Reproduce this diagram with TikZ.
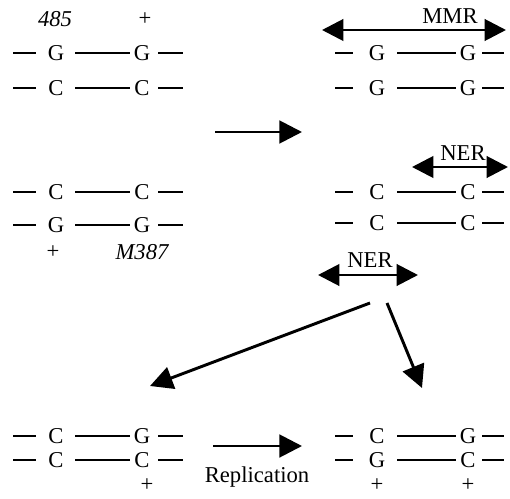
\documentclass[tikz,border=0pt]{standalone}
\usepackage{fontspec}
\setmainfont{Liberation Serif}
\usetikzlibrary{arrows.meta,calc}
\tikzset{
  base/.style={font=\fontsize{17}{20}\selectfont, inner sep=0pt},
  lbl/.style={font=\fontsize{17}{20}\selectfont, inner sep=0pt},
  bond/.style={line width=1.7pt},
  bigarrow/.style={line width=2.2pt, -{Triangle[length=17pt,width=17pt]}},
  dblarrow/.style={line width=2.2pt, {Triangle[length=16pt,width=16pt]}-{Triangle[length=16pt,width=16pt]}},
}
\newcommand{\rowL}[4]{%
  \node[base] (#1a) at (56,#2) {#3};
  \node[base] (#1b) at (142,#2) {#4};
  \coordinate (#1s) at (13,#2);
  \coordinate (#1e) at (183,#2);
  \draw[bond] (#1s) -- ($(#1a)+(-20,0)$);
  \draw[bond] ($(#1a)+(19,0)$) -- ($(#1b)+(-12,0)$);
  \draw[bond] ($(#1b)+(16,0)$) -- (#1e);
}
\newcommand{\rowR}[4]{%
  \node[base] (#1a) at (377,#2) {#3};
  \node[base] (#1b) at (468,#2) {#4};
  \coordinate (#1s) at (335,#2);
  \coordinate (#1e) at (504,#2);
  \draw[bond] (#1s) -- ($(#1a)+(-24,0)$);
  \draw[bond] ($(#1a)+(20,0)$) -- ($(#1b)+(-12,0)$);
  \draw[bond] ($(#1b)+(14,0)$) -- (#1e);
}
\begin{document}
\begin{tikzpicture}[x=0.75pt,y=-0.75pt]
\useasboundingbox (0,0) rectangle (510,499);
% top left
\node[lbl, font=\fontsize{17}{20}\selectfont\itshape] (t485) at (55,19) {485};
\node[lbl] (tplus) at (145,19) {+};
\rowL{tl1}{53}{G}{G}
\rowL{tl2}{88}{C}{C}
% top right
\coordinate (mmrL) at (322,30);
\coordinate (mmrR) at (506,30);
\draw[dblarrow] (mmrL) -- (mmrR);
\node[lbl] (mmr) at (450,16) {MMR};
\rowR{tr1}{53}{G}{G}
\rowR{tr2}{88}{G}{G}
% middle arrow
\coordinate (m1s) at (215,132);
\coordinate (m1e) at (302,132);
\draw[bigarrow] (m1s) -- (m1e);
% middle left
\rowL{ml1}{192}{C}{C}
\rowL{ml2}{225}{G}{G}
\node[lbl] (mplus) at (53,252) {+};
\node[lbl, font=\fontsize{17}{20}\selectfont\itshape] (m387) at (142,252) {M387};
% middle right
\coordinate (ner1L) at (412,167);
\coordinate (ner1R) at (508,167);
\draw[dblarrow] (ner1L) -- (ner1R);
\node[lbl] (ner1) at (463,153) {NER};
\rowR{mr1}{192}{C}{C}
\rowR{mr2}{223}{C}{C}
% lower NER
\coordinate (ner2L) at (318,275);
\coordinate (ner2R) at (418,275);
\draw[dblarrow] (ner2L) -- (ner2R);
\node[lbl] (ner2) at (370,260) {NER};
\coordinate (d1s) at (370,303);
\coordinate (d1e) at (150,386);
\draw[bigarrow] (d1s) -- (d1e);
\coordinate (d2s) at (387,303);
\coordinate (d2e) at (422,388);
\draw[bigarrow] (d2s) -- (d2e);
% bottom left
\rowL{bl1}{436}{C}{G}
\rowL{bl2}{460}{C}{C}
\node[lbl] (bplus) at (147,485) {+};
% bottom arrow
\coordinate (b1s) at (213,446);
\coordinate (b1e) at (302,446);
\draw[bigarrow] (b1s) -- (b1e);
\node[lbl] (repl) at (257,477) {Replication};
% bottom right
\rowR{br1}{436}{C}{G}
\rowR{br2}{460}{G}{C}
\node[lbl] (brp1) at (377,485) {+};
\node[lbl] (brp2) at (468,485) {+};
\end{tikzpicture}
\end{document}
